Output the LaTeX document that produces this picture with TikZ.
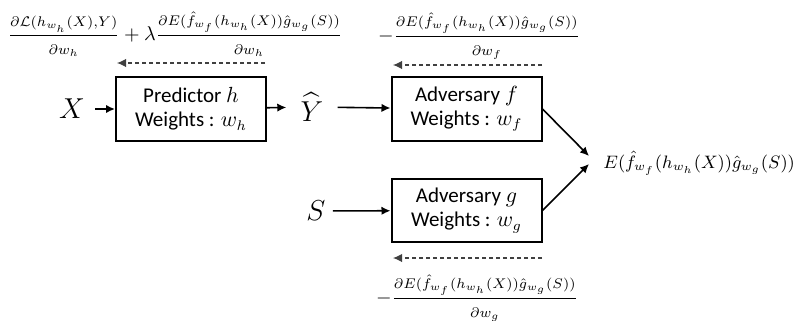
\documentclass[tikz,border=0pt]{standalone}
\usepackage{amssymb}
\usepackage{amsmath}
\usepackage{fontspec}
\setmainfont{Carlito}
\usetikzlibrary{arrows.meta}

\newcommand{\gfrac}[2]{\dfrac{\scriptstyle #1}{\scriptstyle #2}}

\begin{document}
\begin{tikzpicture}[x=0.5pt,y=-0.5pt]
    \tikzset{vertex/.style = {shape=rectangle,draw,line width=1pt,minimum width=75pt,minimum height=32pt,align=center,font=\fontsize{10.5}{12}\selectfont}}
    \tikzset{vertex2/.style = {shape=rectangle,draw=none,font=\fontsize{14.5}{16}\selectfont}}
    \tikzset{vertex3/.style = {shape=rectangle,draw=none,inner sep=0pt}}
    \tikzset{edge/.style = {->,> = {Latex[length=4.5pt,width=4.2pt]},line width=0.8pt}}
    \tikzset{grad/.style = {->,> = {Latex[length=4.5pt,width=4.2pt]},dash pattern=on 2pt off 1.5pt,line width=0.6pt,black!75}}

    \useasboundingbox (0,0) rectangle (803,321);

    % vertices

    \node[vertex2,inner xsep=5pt] (x) at (72,109) {$X$};
    \node[vertex] (pred) at (191,109) {Predictor $h$\\Weights : $w_h$};
    \node[vertex2,inner xsep=7pt] (yhat) at (312,107) {$\widehat{Y}$};
    \node[vertex] (advf) at (466.5,109) {Adversary $f$\\Weights : $w_f$};
    \node[vertex2,inner xsep=3.5pt] (s) at (316,211) {$S$};
    \node[vertex,minimum height=31.5pt] (advg) at (466.5,210.5) {Adversary $g$\\Weights : $w_g$};
    \node[vertex3,anchor=west,font=\fontsize{9.2}{11}\selectfont] (out) at (603,163) {$E(\hat{f}_{w_f}(h_{w_h}(X))\hat{g}_{w_g}(S))$};
    \coordinate (tipf) at (589,156);
    \coordinate (tipg) at (589,164);

    % gradients
    \node[vertex3] (gradh) at (175,34) {$\gfrac{\partial\mathcal{L}(h_{w_h}(X),Y)}{\partial w_h}+\lambda\gfrac{\partial E(\hat{f}_{w_f}(h_{w_h}(X))\hat{g}_{w_g}(S))}{\partial w_h}$};
    \node[vertex3] (gradf) at (479,36) {$-\gfrac{\partial E(\hat{f}_{w_f}(h_{w_h}(X))\hat{g}_{w_g}(S))}{\partial w_f}$};
    \node[vertex3] (gradg) at (477,298) {$-\gfrac{\partial E(\hat{f}_{w_f}(h_{w_h}(X))\hat{g}_{w_g}(S))}{\partial w_g}$};
    \coordinate (hs) at (265,63);
    \coordinate (he) at (117,63);
    \coordinate (fs) at (542,65);
    \coordinate (fe) at (393,65);
    \coordinate (gs) at (542,258);
    \coordinate (ge) at (393,258);

    \draw[edge] (x) to (pred);
    \draw[edge] (pred) to (yhat);
    \draw[edge] (yhat) to (advf);
    \draw[edge] (s) to (advg);
    \draw[edge] (advf.east) to (tipf);
    \draw[edge] (advg.east) to (tipg);
    \draw[grad] (hs) to (he);
    \draw[grad] (fs) to (fe);
    \draw[grad] (gs) to (ge);
\end{tikzpicture}
\end{document}
